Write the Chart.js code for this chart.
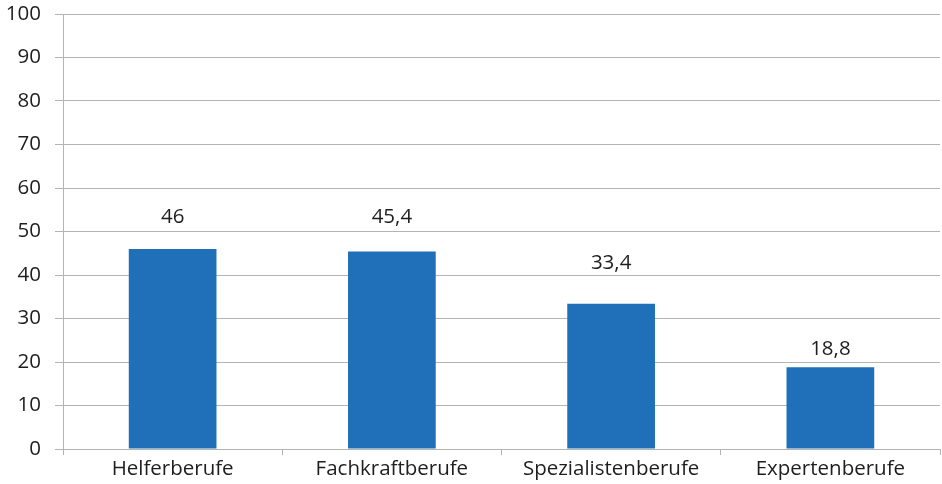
<!DOCTYPE html>
<html>
<head>
<meta charset="utf-8">
<script src="https://cdn.jsdelivr.net/npm/chart.js@4/dist/chart.umd.min.js"></script>
<style>
  html, body { margin: 0; padding: 0; background: #ffffff; }
  #wrap { width: 942px; height: 484px; }
</style>
</head>
<body>
<div id="wrap"><canvas id="c" width="942" height="484"></canvas></div>
<script>
// Anteile nach Anforderungsniveau
const categories = ['Helferberufe', 'Fachkraftberufe', 'Spezialistenberufe', 'Expertenberufe'];
const values = [46, 45.4, 33.4, 18.8];
const yTicks = [0, 10, 20, 30, 40, 50, 60, 70, 80, 90, 100];

const GRID = '#b4b4b4';
const TEXT = '#1e1e1e';
const FONT = '"Open Sans", "Noto Sans", sans-serif';
const FONT_SIZE = 20.5;

// Wert-Beschriftung über den Säulen (deutsches Dezimalkomma)
const labelOffsets = [32, 34, 41, 18];
const valueLabels = {
  id: 'valueLabels',
  afterDatasetsDraw(chart) {
    const ctx = chart.ctx;
    const meta = chart.getDatasetMeta(0);
    ctx.save();
    ctx.font = FONT_SIZE + 'px ' + FONT;
    ctx.fillStyle = TEXT;
    ctx.textAlign = 'center';
    ctx.textBaseline = 'middle';
    meta.data.forEach((bar, i) => {
      const txt = String(values[i]).replace('.', ',');
      ctx.fillText(txt, bar.x, bar.y - labelOffsets[i]);
    });
    ctx.restore();
  }
};

new Chart(document.getElementById('c'), {
  type: 'bar',
  data: {
    labels: categories,
    datasets: [{
      data: values,
      backgroundColor: '#1f70b8',
      borderWidth: 0,
      barPercentage: 0.4,
      categoryPercentage: 1.0
    }]
  },
  options: {
    responsive: false,
    animation: false,
    devicePixelRatio: 1,
    layout: { padding: { top: 14, right: 2, left: 0, bottom: 0 } },
    plugins: { legend: { display: false }, tooltip: { enabled: false } },
    scales: {
      x: {
        offset: true,
        grid: {
          offset: true,
          drawOnChartArea: false,
          drawTicks: true,
          tickLength: 6,
          color: GRID
        },
        border: { color: GRID, width: 1 },
        ticks: { color: TEXT, font: { family: FONT, size: FONT_SIZE }, padding: 2 },
        afterFit(scale) {
          scale.height = 35;
          scale.paddingLeft = 0;
          scale.paddingRight = 0;
        }
      },
      y: {
        min: 0,
        max: 100,
        afterBuildTicks(scale) { scale.ticks = yTicks.map(v => ({ value: v })); },
        grid: { color: GRID, tickLength: 8, drawTicks: true },
        border: { color: GRID, width: 1 },
        ticks: { color: TEXT, font: { family: FONT, size: FONT_SIZE }, padding: 14 },
        afterFit(scale) {
          scale.width = 63;
          scale.paddingTop = 0;
          scale.paddingBottom = 0;
        }
      }
    }
  },
  plugins: [valueLabels]
});
</script>
</body>
</html>
